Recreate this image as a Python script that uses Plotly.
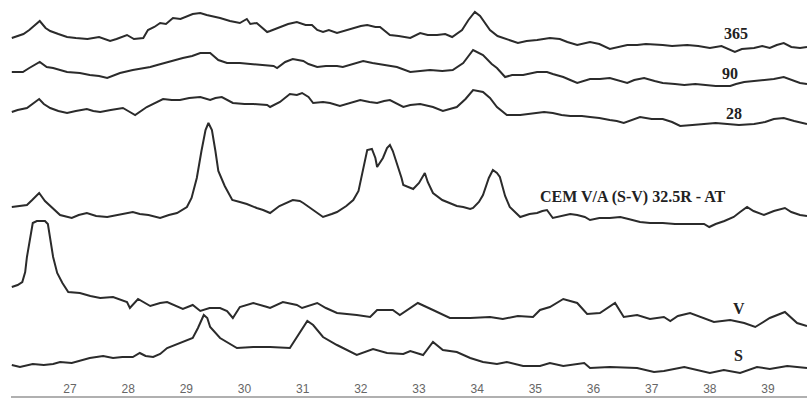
import plotly.graph_objects as go

# 2-theta (deg) and intensity (a.u., stacked) for each pattern
tt_365 = [26.00, 26.10, 26.20, 26.30, 26.48, 26.58, 26.66, 26.80, 26.95, 27.10, 27.30, 27.50, 27.69, 27.80, 27.98,
          28.10, 28.26, 28.34, 28.45, 28.55, 28.65, 28.77, 28.90, 29.11, 29.24, 29.35, 29.45, 29.58, 29.75, 29.92,
          30.04, 30.10, 30.21, 30.39, 30.44, 30.60, 30.75, 30.90, 31.05, 31.16, 31.25, 31.35, 31.45, 31.59, 31.76,
          31.87, 32.00, 32.11, 32.25, 32.33, 32.50, 32.65, 32.85, 33.02, 33.15, 33.31, 33.45, 33.57, 33.74, 33.85,
          33.96, 34.05, 34.22, 34.35, 34.44, 34.55, 34.70, 34.85, 35.03, 35.25, 35.42, 35.55, 35.72, 35.94, 36.10,
          36.28, 36.45, 36.58, 36.75, 36.90, 37.19, 37.35, 37.61, 37.80, 38.00, 38.20, 38.43, 38.55, 38.76, 38.90,
          39.03, 39.15, 39.27, 39.40, 39.55, 39.67]
i_365 = [358, 360, 362, 366, 375, 368, 365, 362, 359, 358, 357, 359, 355, 357, 361,
         357, 358, 366, 369, 373, 372, 378, 377, 382, 383, 381, 380, 378, 375, 373,
         377, 372, 373, 364, 365, 369, 372, 374, 371, 371, 366, 364, 366, 363, 366,
         368, 370, 371, 369, 369, 361, 360, 358, 363, 361, 361, 362, 359, 366, 376,
         384, 380, 366, 360, 358, 356, 353, 355, 356, 358, 357, 354, 351, 354, 352,
         347, 349, 351, 351, 352, 351, 350, 351, 350, 348, 350, 344, 347, 348, 350,
         348, 351, 353, 349, 348, 349]

tt_90 = [26.00, 26.19, 26.30, 26.48, 26.60, 26.71, 26.95, 27.17, 27.34, 27.50, 27.64, 27.86, 28.08, 28.20, 28.38,
         28.50, 28.67, 28.80, 28.94, 29.10, 29.24, 29.41, 29.55, 29.70, 29.92, 30.10, 30.39, 30.50, 30.56, 30.70,
         30.83, 31.01, 31.10, 31.25, 31.40, 31.59, 31.69, 31.85, 32.04, 32.20, 32.38, 32.62, 32.85, 33.00, 33.19,
         33.40, 33.58, 33.76, 33.85, 33.93, 34.10, 34.25, 34.34, 34.48, 34.60, 34.79, 35.03, 35.20, 35.30, 35.48,
         35.60, 35.72, 35.94, 36.11, 36.28, 36.45, 36.58, 36.70, 36.87, 37.05, 37.19, 37.40, 37.56, 37.75, 37.90,
         38.10, 38.35, 38.45, 38.59, 38.75, 38.93, 39.10, 39.27, 39.40, 39.55, 39.67]
i_90 = [324, 324, 328, 334, 329, 328, 324, 323, 321, 320, 318, 323, 326, 327, 329,
        331, 334, 336, 338, 340, 343, 343, 336, 333, 333, 332, 331, 330, 328, 334,
        337, 335, 332, 329, 330, 330, 329, 332, 335, 333, 331, 329, 324, 325, 326,
        325, 326, 333, 340, 346, 341, 332, 328, 319, 321, 321, 324, 324, 322, 319,
        316, 313, 317, 317, 318, 315, 313, 316, 318, 315, 313, 312, 311, 312, 311,
        310, 310, 312, 314, 315, 316, 317, 319, 316, 313, 312]

tt_28 = [26.00, 26.10, 26.26, 26.35, 26.47, 26.55, 26.66, 26.80, 26.95, 27.10, 27.29, 27.40, 27.52, 27.70, 27.91,
         28.00, 28.12, 28.32, 28.45, 28.60, 28.75, 28.89, 29.05, 29.24, 29.41, 29.50, 29.61, 29.80, 30.00, 30.15,
         30.39, 30.44, 30.61, 30.78, 30.90, 30.99, 31.10, 31.18, 31.35, 31.47, 31.64, 31.80, 31.99, 32.15, 32.28,
         32.40, 32.50, 32.73, 32.85, 33.02, 33.15, 33.24, 33.41, 33.53, 33.65, 33.80, 33.93, 34.10, 34.22, 34.34,
         34.51, 34.74, 34.90, 35.03, 35.15, 35.30, 35.45, 35.60, 35.80, 35.94, 36.10, 36.28, 36.40, 36.52, 36.65,
         36.80, 37.00, 37.19, 37.35, 37.49, 37.70, 37.90, 38.10, 38.30, 38.50, 38.76, 38.95, 39.10, 39.27, 39.45,
         39.62, 39.67]
i_28 = [284, 286, 288, 292, 297, 292, 288, 285, 283, 285, 287, 285, 284, 286, 288,
        285, 281, 289, 293, 297, 296, 296, 298, 299, 296, 298, 299, 293, 292, 292,
        291, 289, 294, 302, 301, 303, 299, 293, 294, 293, 290, 293, 296, 294, 293,
        295, 296, 289, 291, 292, 290, 289, 285, 287, 289, 297, 306, 304, 298, 289,
        281, 281, 282, 283, 284, 283, 281, 280, 280, 279, 278, 276, 275, 273, 276,
        279, 277, 277, 274, 270, 271, 272, 273, 272, 271, 272, 274, 277, 278, 275,
        273, 272]

tt_cem = [26.00, 26.10, 26.26, 26.35, 26.47, 26.57, 26.66, 26.83, 27.03, 27.15, 27.29, 27.45, 27.64, 27.80, 28.08,
          28.20, 28.35, 28.55, 28.70, 28.84, 29.01, 29.09, 29.18, 29.26, 29.33, 29.38, 29.44, 29.50, 29.55, 29.66,
          29.79, 29.92, 30.04, 30.21, 30.32, 30.44, 30.60, 30.83, 30.95, 31.01, 31.15, 31.35, 31.50, 31.59, 31.75,
          31.87, 31.96, 31.99, 32.05, 32.11, 32.19, 32.25, 32.28, 32.33, 32.38, 32.45, 32.50, 32.55, 32.62, 32.70,
          32.73, 32.90, 33.00, 33.10, 33.15, 33.24, 33.40, 33.53, 33.65, 33.76, 33.88, 33.93, 34.03, 34.10, 34.20,
          34.27, 34.34, 34.39, 34.48, 34.56, 34.74, 34.90, 35.03, 35.12, 35.20, 35.30, 35.45, 35.60, 35.72, 35.85,
          35.94, 36.10, 36.28, 36.46, 36.60, 36.80, 36.97, 37.19, 37.40, 37.60, 37.90, 37.99, 38.10, 38.25, 38.41,
          38.52, 38.64, 38.75, 38.93, 39.10, 39.29, 39.40, 39.55, 39.67]
i_cem = [189, 190, 191, 196, 203, 195, 190, 181, 178, 181, 183, 180, 179, 181, 184,
         182, 181, 178, 181, 183, 189, 198, 218, 245, 266, 273, 266, 245, 225, 210,
         196, 194, 192, 188, 186, 183, 190, 196, 195, 193, 187, 179, 182, 184, 190,
         196, 205, 213, 232, 246, 247, 238, 229, 233, 238, 248, 251, 245, 233, 218,
         211, 207, 213, 223, 214, 203, 196, 193, 190, 189, 187, 188, 194, 201, 218,
         226, 223, 219, 200, 189, 179, 182, 183, 185, 186, 178, 180, 182, 181, 179,
         176, 178, 178, 179, 177, 174, 173, 173, 172, 172, 172, 169, 172, 175, 179,
         184, 189, 185, 181, 185, 188, 184, 181, 180]

tt_v = [26.00, 26.10, 26.18, 26.23, 26.26, 26.30, 26.33, 26.36, 26.43, 26.57, 26.62, 26.67, 26.71, 26.78, 26.87,
        26.97, 27.17, 27.35, 27.52, 27.74, 27.98, 28.03, 28.17, 28.38, 28.55, 28.67, 28.94, 29.11, 29.24, 29.40,
        29.58, 29.70, 29.80, 29.92, 30.15, 30.39, 30.44, 30.66, 30.90, 30.99, 31.25, 31.40, 31.59, 31.93, 32.16,
        32.28, 32.55, 32.67, 32.98, 33.24, 33.53, 33.88, 34.22, 34.44, 34.70, 34.96, 35.08, 35.25, 35.48, 35.72,
        35.89, 36.11, 36.37, 36.52, 36.75, 36.97, 37.21, 37.32, 37.45, 37.66, 37.83, 38.07, 38.35, 38.59, 38.78,
        39.03, 39.29, 39.50, 39.67]
i_v = [109, 111, 114, 124, 139, 153, 166, 173, 175, 175, 172, 156, 139, 123, 113,
       104, 103, 100, 98, 99, 94, 88, 97, 90, 93, 94, 87, 91, 85, 88,
       88, 85, 78, 89, 93, 89, 88, 94, 91, 88, 93, 88, 83, 81, 79,
       86, 86, 81, 93, 86, 78, 78, 79, 77, 80, 79, 86, 89, 97, 93,
       82, 83, 93, 79, 81, 77, 79, 75, 80, 83, 79, 74, 76, 73, 69,
       78, 84, 73, 70]

tt_s = [26.00, 26.14, 26.36, 26.55, 26.71, 26.83, 27.03, 27.17, 27.34, 27.57, 27.74, 27.90, 28.08, 28.20, 28.30,
        28.43, 28.55, 28.67, 28.89, 29.11, 29.20, 29.30, 29.36, 29.41, 29.58, 29.87, 30.15, 30.44, 30.78, 30.95,
        31.08, 31.18, 31.35, 31.59, 31.76, 31.93, 32.21, 32.45, 32.73, 32.85, 33.07, 33.24, 33.41, 33.65, 33.88,
        34.10, 34.34, 34.51, 34.79, 35.08, 35.25, 35.48, 35.84, 35.94, 36.28, 36.75, 37.04, 37.21, 37.56, 38.00,
        38.24, 38.52, 38.81, 39.03, 39.33, 39.62, 39.67]
i_s = [31, 29, 32, 31, 32, 34, 33, 35, 38, 40, 38, 39, 39, 43, 40,
       39, 42, 48, 53, 58, 68, 81, 78, 69, 58, 48, 49, 49, 48, 63,
       75, 71, 59, 51, 46, 41, 47, 43, 42, 45, 41, 54, 46, 44, 38,
       34, 32, 34, 30, 30, 33, 30, 33, 28, 29, 28, 24, 25, 29, 23,
       26, 23, 29, 27, 30, 28, 28]

series = [
    ("365", tt_365, i_365),
    ("90", tt_90, i_90),
    ("28", tt_28, i_28),
    ("CEM V/A (S-V) 32.5R - AT", tt_cem, i_cem),
    ("V", tt_v, i_v),
    ("S", tt_s, i_s),
]

# label anchor for each pattern (2-theta, intensity)
label_pos = {
    "365": (38.45, 363),
    "90": (38.35, 323),
    "28": (38.41, 283),
    "CEM V/A (S-V) 32.5R - AT": (36.68, 199),
    "V": (38.50, 88),
    "S": (38.50, 41),
}

tick_vals = list(range(27, 40))

fig = go.Figure()
for name, x, y in series:
    fig.add_trace(go.Scatter(
        x=x, y=y, mode="lines", name=name,
        line=dict(color="#2b2b2b", width=2),
        hoverinfo="skip",
    ))
    lx, ly = label_pos[name]
    fig.add_annotation(
        x=lx, y=ly, text=f"<b>{name}</b>", showarrow=False,
        font=dict(family="Liberation Serif", size=16, color="#222222"),
        xanchor="center", yanchor="middle",
    )

fig.update_layout(
    width=807, height=398,
    margin=dict(l=11, r=0, t=0, b=2),
    paper_bgcolor="white", plot_bgcolor="white",
    showlegend=False,
    xaxis=dict(
        range=[25.986, 39.67],
        tickmode="array", tickvals=tick_vals, ticktext=[str(v) for v in tick_vals],
        ticklabelposition="inside", ticks="",
        tickfont=dict(family="Liberation Sans", size=12, color="#666666"),
        showgrid=False, zeroline=False,
        showline=True, linecolor="#b0b0b0", linewidth=1.5,
    ),
    yaxis=dict(
        range=[0, 396], visible=False, showgrid=False, zeroline=False,
    ),
)

fig.write_html("out.html")
